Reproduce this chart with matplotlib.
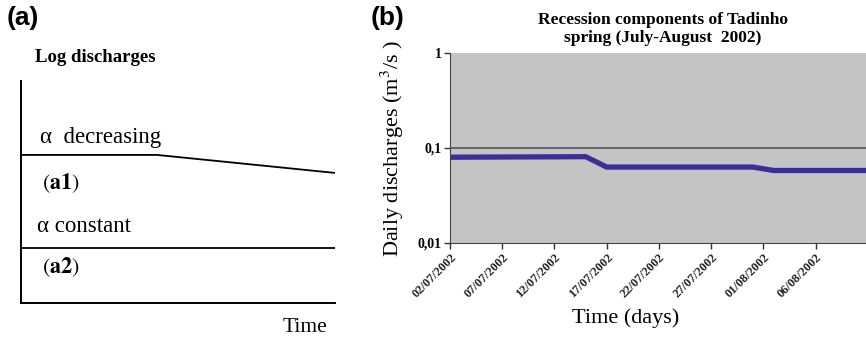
import matplotlib.pyplot as plt
import matplotlib.dates as mdates
from datetime import datetime

plt.rcParams["mathtext.fontset"] = "stix"

# panel (a): schematic lines (time and log discharge in 0..1 units)
a1_t = [0.0, 0.433, 1.0]
a1_q = [0.667, 0.667, 0.586]
a2_t = [0.0, 1.0]
a2_q = [0.248, 0.248]

# panel (b): recession of Tadinho spring
dates = [datetime(2002, 7, 2), datetime(2002, 7, 15), datetime(2002, 7, 17),
         datetime(2002, 7, 31), datetime(2002, 8, 2), datetime(2002, 8, 10, 20)]
discharge = [0.080, 0.081, 0.063, 0.063, 0.058, 0.058]
tick_dates = [datetime(2002, 7, 2), datetime(2002, 7, 7), datetime(2002, 7, 12),
              datetime(2002, 7, 17), datetime(2002, 7, 22), datetime(2002, 7, 27),
              datetime(2002, 8, 1), datetime(2002, 8, 6)]
y_ticks = [1, 0.1, 0.01]
y_labels = ["1", "0,1", "0,01"]

serif = "Liberation Serif"
fig = plt.figure(figsize=(8.66, 3.38), dpi=100)
W, H = 866, 338

def box(x0, y0, x1, y1):
    return [x0 / W, 1 - y1 / H, (x1 - x0) / W, (y1 - y0) / H]

# ---- (a)
ax = fig.add_axes(box(21, 81, 335, 303))
ax.plot(a1_t, a1_q, color="black", lw=1.3)
ax.plot(a2_t, a2_q, color="black", lw=1.3)
ax.set_xlim(0, 1)
ax.set_ylim(0, 1)
for s in ["top", "right"]:
    ax.spines[s].set_visible(False)
ax.spines["left"].set_linewidth(1.4)
ax.spines["bottom"].set_linewidth(1.4)
ax.set_xticks([])
ax.set_yticks([])
ax.set_facecolor("none")

fig.text(7 / W, 1 - 18 / H, "(a)", fontsize=19, fontweight="bold",
         family="Liberation Sans", va="center")
fig.text(35 / W, 1 - 57 / H, "Log discharges", fontsize=13.5, fontweight="bold",
         family=serif, va="center")
fig.text(40 / W, 1 - 137 / H, "\u03b1  decreasing", fontsize=16.5, family=serif, va="center")
fig.text(42 / W, 1 - 183 / H, r"$(\mathbf{a1})$", fontsize=16, va="center")
fig.text(37 / W, 1 - 226 / H, "\u03b1 constant", fontsize=16.5, family=serif, va="center")
fig.text(42 / W, 1 - 267 / H, r"$(\mathbf{a2})$", fontsize=16, va="center")
fig.text(283 / W, 1 - 328 / H, "Time", fontsize=15.5, family=serif, va="center")

# ---- (b)
bx = fig.add_axes(box(450, 53, 866, 243))
bx.set_facecolor("#c4c4c4")
bx.plot(dates, discharge, color="#3b2d9a", lw=3.8, solid_joinstyle="round")
bx.set_yscale("log")
bx.set_ylim(0.01, 1)
bx.set_xlim(datetime(2002, 7, 2), datetime(2002, 8, 10, 20))
bx.axhline(0.1, color="#555555", lw=1.2)
bx.set_yticks(y_ticks)
bx.set_yticklabels(y_labels, family=serif, fontweight="bold", fontsize=10)
bx.yaxis.set_minor_locator(plt.NullLocator())
bx.set_xticks(tick_dates)
bx.xaxis.set_major_formatter(mdates.DateFormatter("%d/%m/%Y"))
for lab in bx.get_xticklabels():
    lab.set_rotation(45)
    lab.set_ha("right")
    lab.set_rotation_mode("anchor")
    lab.set_family(serif)
    lab.set_fontweight("bold")
    lab.set_fontsize(9)
    lab.set_color("#222222")
bx.tick_params(length=4, width=1, color="#333333", pad=2)
for s in ["top", "right"]:
    bx.spines[s].set_visible(False)
bx.spines["left"].set_color("#444444")
bx.spines["bottom"].set_color("#444444")

fig.text(371 / W, 1 - 18 / H, "(b)", fontsize=19, fontweight="bold",
         family="Liberation Sans", va="center")
fig.text(663 / W, 1 - 29 / H, "Recession components of Tadinho\nspring (July-August  2002)",
         fontsize=12.5, fontweight="bold", family=serif, ha="center", va="center",
         linespacing=1.2)
fig.text(392 / W, 1 - 148 / H, "Daily discharges (m$^3$/s )", fontsize=16,
         family=serif, rotation=90, ha="center", va="center")
fig.text(626 / W, 1 - 318 / H, "Time (days)", fontsize=16, family=serif,
         ha="center", va="center")

fig.savefig("out.png", dpi=100)
